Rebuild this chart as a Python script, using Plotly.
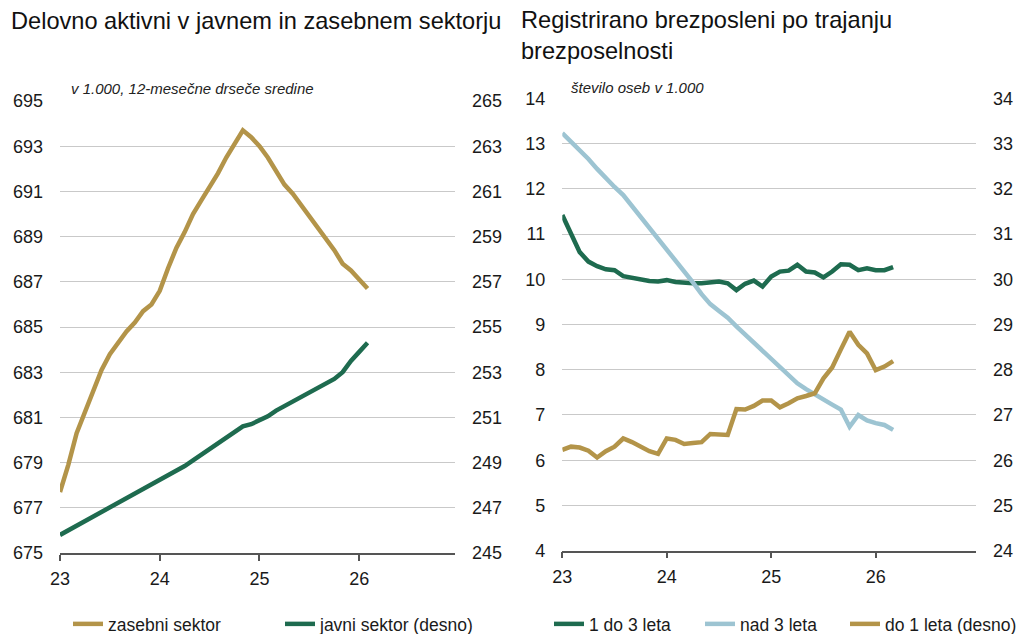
import plotly.graph_objects as go

# ---------------- data ----------------
months_left = list(range(38))   # Jan 2023 .. Feb 2026
zasebni = [677.7, 678.9, 680.3, 681.2, 682.2, 683.1, 683.8, 684.3, 684.8, 685.2,
           685.7, 686.0, 686.6, 687.6, 688.5, 689.2, 690.0, 690.6, 691.2, 691.8,
           692.5, 693.1, 693.7, 693.4, 693.0, 692.5, 691.9, 691.3, 690.9, 690.4,
           689.9, 689.4, 688.9, 688.4, 687.8, 687.5, 687.1, 686.7]
javni = [245.8, 246.0, 246.2, 246.4, 246.6, 246.8, 247.0, 247.2, 247.4, 247.6,
         247.8, 248.0, 248.2, 248.4, 248.6, 248.85, 249.1, 249.35, 249.6, 249.85,
         250.1, 250.35, 250.6, 250.7, 250.85, 251.05, 251.3, 251.5, 251.7, 251.95,
         252.15, 252.3, 252.5, 252.7, 253.0, 253.5, 253.9, 254.3]

months_right = list(range(39))  # Jan 2023 .. Mar 2026
leta_1do3 = [11.42, 10.98, 10.60, 10.39, 10.29, 10.22, 10.20, 10.07, 10.03, 9.98,
             9.96, 9.95, 9.98, 9.94, 9.92, 9.91, 9.91, 9.92, 9.95, 9.91,
             9.76, 9.90, 9.97, 9.84, 10.06, 10.17, 10.19, 10.32, 10.17, 10.15,
             10.04, 10.17, 10.33, 10.32, 10.20, 10.24, 10.20, 10.20, 10.27]
nad3 = [13.23, 13.05, 12.87, 12.66, 12.44, 12.23, 12.04, 11.86, 11.62, 11.38,
        11.15, 10.91, 10.68, 10.44, 10.19, 9.93, 9.67, 9.45, 9.30, 9.15,
        8.96, 8.78, 8.60, 8.42, 8.22, 8.04, 7.87, 7.70, 7.57, 7.45,
        7.33, 7.23, 7.12, 6.74, 7.00, 6.88, 6.82, 6.78, 6.67]
do1 = [26.23, 26.30, 26.28, 26.21, 26.06, 26.20, 26.30, 26.48, 26.40, 26.30,
       26.20, 26.14, 26.48, 26.45, 26.36, 26.38, 26.40, 26.58, 26.57, 26.56,
       27.13, 27.12, 27.20, 27.32, 27.32, 27.17, 27.26, 27.37, 27.42, 27.48,
       27.81, 28.05, 28.45, 28.84, 28.55, 28.36, 27.99, 28.07, 28.19]

x_ticks = [23, 24, 25, 26]
x_ticklabels = ["23", "24", "25", "26"]

x_left = [23 + m / 12 for m in months_left]
x_right = [23 + m / 12 for m in months_right]

GOLD = "#B39449"
GREEN = "#1E6B4F"
BLUE = "#9DC4D2"
FONT = "Liberation Sans, Arial, sans-serif"
W, H = 1016, 634

fig = go.Figure()
lw = 4.5
fig.add_trace(go.Scatter(x=x_left, y=zasebni, mode="lines", name="zasebni sektor",
                         line=dict(color=GOLD, width=lw), xaxis="x", yaxis="y", legend="legend"))
fig.add_trace(go.Scatter(x=x_left, y=javni, mode="lines", name="javni sektor (desno)",
                         line=dict(color=GREEN, width=lw), xaxis="x", yaxis="y2", legend="legend2"))
fig.add_trace(go.Scatter(x=x_right, y=leta_1do3, mode="lines", name="1 do 3 leta",
                         line=dict(color=GREEN, width=lw), xaxis="x2", yaxis="y3", legend="legend3"))
fig.add_trace(go.Scatter(x=x_right, y=nad3, mode="lines", name="nad 3 leta",
                         line=dict(color=BLUE, width=lw), xaxis="x2", yaxis="y3", legend="legend4"))
fig.add_trace(go.Scatter(x=x_right, y=do1, mode="lines", name="do 1 leta (desno)",
                         line=dict(color=GOLD, width=lw), xaxis="x2", yaxis="y4", legend="legend5"))

px_x = lambda p: p / W
px_y = lambda p: 1 - p / H

tickfont = dict(family=FONT, size=18, color="#1a1a1a")
xax = dict(range=[23, 26.96], tickvals=x_ticks, ticktext=x_ticklabels, showgrid=False,
           showline=True, linecolor="#555555", linewidth=1.5, ticks="outside",
           ticklen=6, tickcolor="#555555", tickwidth=1.5, tickfont=tickfont,
           ticklabelstandoff=3, zeroline=False, fixedrange=True)
yax_common = dict(zeroline=False, showline=False, ticks="", tickfont=tickfont,
                  ticklabelstandoff=16, fixedrange=True)

fig.update_layout(
    width=W, height=H,
    margin=dict(l=0, r=0, t=0, b=0, autoexpand=False),
    paper_bgcolor="white", plot_bgcolor="white",
    font=dict(family=FONT, color="#1a1a1a"),
    xaxis=dict(domain=[px_x(60), px_x(455)], anchor="y", **xax),
    xaxis2=dict(domain=[px_x(562.3), px_x(976)], anchor="y3", **xax),
    yaxis=dict(domain=[px_y(553), px_y(101)], anchor="x", range=[675, 695], tick0=675, dtick=2,
               showgrid=True, gridcolor="#c9c9c9", gridwidth=1.2, **yax_common),
    yaxis2=dict(domain=[px_y(553), px_y(101)], anchor="x", overlaying="y", side="right",
                range=[245, 265], tick0=245, dtick=2, showgrid=False, **yax_common),
    yaxis3=dict(domain=[px_y(550.7), px_y(98.3)], anchor="x2", range=[4, 14], dtick=1,
                showgrid=True, gridcolor="#c9c9c9", gridwidth=1.2, **yax_common),
    yaxis4=dict(domain=[px_y(550.7), px_y(98.3)], anchor="x2", overlaying="y3", side="right",
                range=[24, 34], dtick=1, showgrid=False, **yax_common),
    showlegend=True,
)

leg_common = dict(orientation="h", yanchor="middle", y=px_y(624), xanchor="left",
                  font=dict(family=FONT, size=17.5, color="#1a1a1a"), bgcolor="rgba(0,0,0,0)")
fig.update_layout(
    legend=dict(x=px_x(68), **leg_common),
    legend2=dict(x=px_x(280), **leg_common),
    legend3=dict(x=px_x(549), **leg_common),
    legend4=dict(x=px_x(700), **leg_common),
    legend5=dict(x=px_x(845), **leg_common),
)

annotations = [
    dict(text="Delovno aktivni v javnem in zasebnem sektorju", x=px_x(9), y=px_y(21),
         xref="paper", yref="paper", xanchor="left", yanchor="middle", showarrow=False,
         font=dict(family=FONT, size=23.6, color="#111111")),
    dict(text="Registrirano brezposleni po trajanju<br>brezposelnosti", x=px_x(519), y=px_y(5),
         xref="paper", yref="paper", xanchor="left", yanchor="top", align="left", showarrow=False,
         font=dict(family=FONT, size=23.6, color="#111111")),
    dict(text="<i>v 1.000, 12-mesečne drseče sredine</i>", x=px_x(69), y=px_y(88),
         xref="paper", yref="paper", xanchor="left", yanchor="middle", showarrow=False,
         font=dict(family=FONT, size=15, color="#222222")),
    dict(text="<i>število oseb v 1.000</i>", x=px_x(569), y=px_y(87),
         xref="paper", yref="paper", xanchor="left", yanchor="middle", showarrow=False,
         font=dict(family=FONT, size=15, color="#222222")),
]
fig.update_layout(annotations=annotations)

fig.write_html("out.html", config={"displayModeBar": False},
               post_script="document.body.style.margin='0px';document.body.style.overflow='hidden';")
